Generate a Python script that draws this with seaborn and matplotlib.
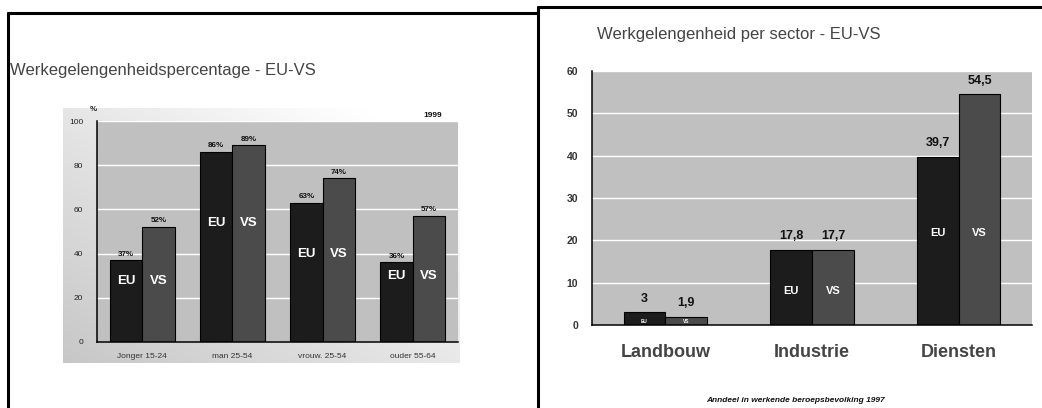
import matplotlib
matplotlib.use('Agg')
import matplotlib.pyplot as plt
from matplotlib.lines import Line2D
import seaborn as sns
import pandas as pd
import numpy as np

# data - linker grafiek (werkgelegenheidspercentage 1999)
age_groups = ['Jonger 15-24', 'man 25-54', 'vrouw. 25-54', 'ouder 55-64']
rate_eu = [37, 86, 63, 36]
rate_vs = [52, 89, 74, 57]

# data - rechter grafiek (aandeel per sector 1997)
sectors = ['Landbouw', 'Industrie', 'Diensten']
sector_eu = [3, 17.8, 39.7]
sector_vs = [1.9, 17.7, 54.5]

regions = ['EU', 'VS']
palette = {'EU': '#1c1c1c', 'VS': '#4b4b4b'}

# hoogte van de EU/VS-labels binnen de balken
inbar_left = [27.5, 54, 40, 30]
inbar_right = [0.2, 8.1, 21.7]

sns.set_style('white')
plt.rcParams['font.family'] = ['Liberation Sans', 'DejaVu Sans']

W, H = 1042, 408
fig = plt.figure(figsize=(W / 100, H / 100), dpi=100)
fig.patch.set_facecolor('white')


def fx(px):
    return px / W


def fy(py):
    return 1 - py / H


def long_df(cats, eu, vs, name):
    return pd.DataFrame({
        name: cats * 2,
        'regio': ['EU'] * len(cats) + ['VS'] * len(cats),
        'waarde': list(eu) + list(vs),
    })


# ---------- frames ----------
frame_kw = dict(color='black', lw=2.2, transform=fig.transFigure, zorder=10)
fig.add_artist(Line2D([fx(8), fx(8)], [fy(13), 0], **frame_kw))
fig.add_artist(Line2D([fx(8), fx(538)], [fy(13), fy(13)], **frame_kw))
fig.add_artist(Line2D([fx(538), fx(538)], [fy(7), 0], **frame_kw))
fig.add_artist(Line2D([fx(538), 1], [fy(7), fy(7)], **frame_kw))

# ---------- linker grafiek ----------
# achtergrond met verloop (linksonder grijs, rechtsboven wit)
bg = fig.add_axes([fx(63), fy(363), fx(460) - fx(63), fy(108) - fy(363)], zorder=0)
gx, gy = np.meshgrid(np.linspace(0, 1, 200), np.linspace(0, 1, 100))
grad = np.clip(0.6 * gx + 0.55 * gy, 0, 1)
shade = 0.78 + 0.22 * grad
bg.imshow(np.dstack([shade, shade, shade]), aspect='auto', origin='lower',
          extent=[0, 1, 0, 1])
bg.axis('off')

ax1 = fig.add_axes([fx(97), fy(342), fx(458) - fx(97), fy(121) - fy(342)], zorder=1)
df1 = long_df(age_groups, rate_eu, rate_vs, 'groep')
sns.barplot(data=df1, x='groep', y='waarde', hue='regio', hue_order=regions,
            palette=palette, saturation=1, width=0.72, gap=0, legend=False,
            edgecolor='black', linewidth=0.8, ax=ax1)
ax1.set_facecolor('#c0c0c0')
ax1.set_ylim(0, 100)
ax1.set_xlim(-0.5, len(age_groups) - 0.5)
ax1.set_axisbelow(True)
ax1.yaxis.grid(True, color='white', lw=1)
ax1.xaxis.grid(False)
ax1.set_yticks([0, 20, 40, 60, 80, 100])
ax1.set_yticklabels(['0', '20', '40', '60', '80', '100'])
ax1.set_xticks(np.arange(-0.5, len(age_groups), 1.0))
ax1.set_xticklabels([])
ax1.set_xticks(np.arange(len(age_groups)), minor=True)
ax1.set_xticklabels(age_groups, minor=True)
ax1.tick_params(axis='x', which='major', direction='out', length=4, width=1, color='black')
ax1.tick_params(axis='x', which='minor', length=0, pad=8, labelsize=6, labelcolor='#333333')
ax1.tick_params(axis='y', direction='out', length=4, width=1, color='black',
                labelsize=6, labelcolor='#222222', pad=6)
for s in ['top', 'right']:
    ax1.spines[s].set_visible(False)
for s in ['left', 'bottom']:
    ax1.spines[s].set_color('black')
    ax1.spines[s].set_linewidth(1.1)
ax1.set_xlabel('')
ax1.set_ylabel('')

for cont, vals, lab in zip(ax1.containers, [rate_eu, rate_vs], regions):
    for i, (bar, v) in enumerate(zip(cont, vals)):
        cx = bar.get_x() + bar.get_width() / 2
        ax1.text(cx, v + 1.2, f'{v}%', ha='center', va='bottom', fontsize=5.8,
                 fontweight='bold', color='#111111')
        ax1.text(cx, inbar_left[i], lab, ha='center', va='center', fontsize=9.5,
                 fontweight='bold', color='white')

ax1.text(-0.02, 1.035, '%', transform=ax1.transAxes, fontsize=5.8, fontweight='bold',
         color='#222222', ha='left', va='bottom')
ax1.text(0.955, 1.01, '1999', transform=ax1.transAxes, fontsize=6, fontweight='bold',
         color='#111111', ha='right', va='bottom')

fig.text(fx(10), fy(70), 'Werkegelengenheidspercentage - EU-VS', fontsize=12,
         color='#444444', ha='left', va='center')

# ---------- rechter grafiek ----------
ax2 = fig.add_axes([fx(592), fy(325), fx(1032) - fx(592), fy(71) - fy(325)], zorder=1)
df2 = long_df(sectors, sector_eu, sector_vs, 'sector')
sns.barplot(data=df2, x='sector', y='waarde', hue='regio', hue_order=regions,
            palette=palette, saturation=1, width=0.57, gap=0, legend=False,
            edgecolor='black', linewidth=0.8, ax=ax2)
ax2.set_facecolor('#c0c0c0')
ax2.set_ylim(0, 60)
ax2.set_xlim(-0.5, len(sectors) - 0.5)
ax2.set_axisbelow(True)
ax2.yaxis.grid(True, color='white', lw=1)
ax2.xaxis.grid(False)
ax2.set_yticks(range(0, 61, 10))
ax2.set_xticks(np.arange(-0.5, len(sectors), 1.0))
ax2.set_xticklabels([])
ax2.set_xticks(np.arange(len(sectors)), minor=True)
ax2.set_xticklabels(sectors, minor=True)
ax2.tick_params(axis='x', which='major', direction='out', length=6, width=1, color='black')
ax2.tick_params(axis='x', which='minor', length=0, pad=14, labelsize=13, labelcolor='#444444')
for t in ax2.get_xticklabels(minor=True):
    t.set_fontweight('bold')
ax2.tick_params(axis='y', direction='out', length=4, width=1, color='black',
                labelsize=7.5, labelcolor='#333333', pad=6)
for t in ax2.get_yticklabels():
    t.set_fontweight('bold')
for s in ['top', 'right']:
    ax2.spines[s].set_visible(False)
for s in ['left', 'bottom']:
    ax2.spines[s].set_color('black')
    ax2.spines[s].set_linewidth(1.1)
ax2.set_xlabel('')
ax2.set_ylabel('')

for cont, vals, lab in zip(ax2.containers, [sector_eu, sector_vs], regions):
    for i, (bar, v) in enumerate(zip(cont, vals)):
        cx = bar.get_x() + bar.get_width() / 2
        ax2.text(cx, v + 1.8, f'{v:g}'.replace('.', ','), ha='center', va='bottom',
                 fontsize=9, fontweight='bold', color='#111111')
        small = vals[i] < 5
        ax2.text(cx, inbar_right[i], lab, ha='center',
                 va='bottom' if small else 'center',
                 fontsize=3.5 if small else 8, fontweight='bold', color='white')

fig.text(fx(597), fy(35), 'Werkgelengenheid per sector - EU-VS', fontsize=12,
         color='#444444', ha='left', va='center')
fig.text(fx(795), fy(400), 'Anndeel in werkende beroepsbevolking 1997', fontsize=6,
         style='italic', fontweight='bold', color='#111111', ha='center', va='center')

fig.savefig('out.png', dpi=100, facecolor='white')
